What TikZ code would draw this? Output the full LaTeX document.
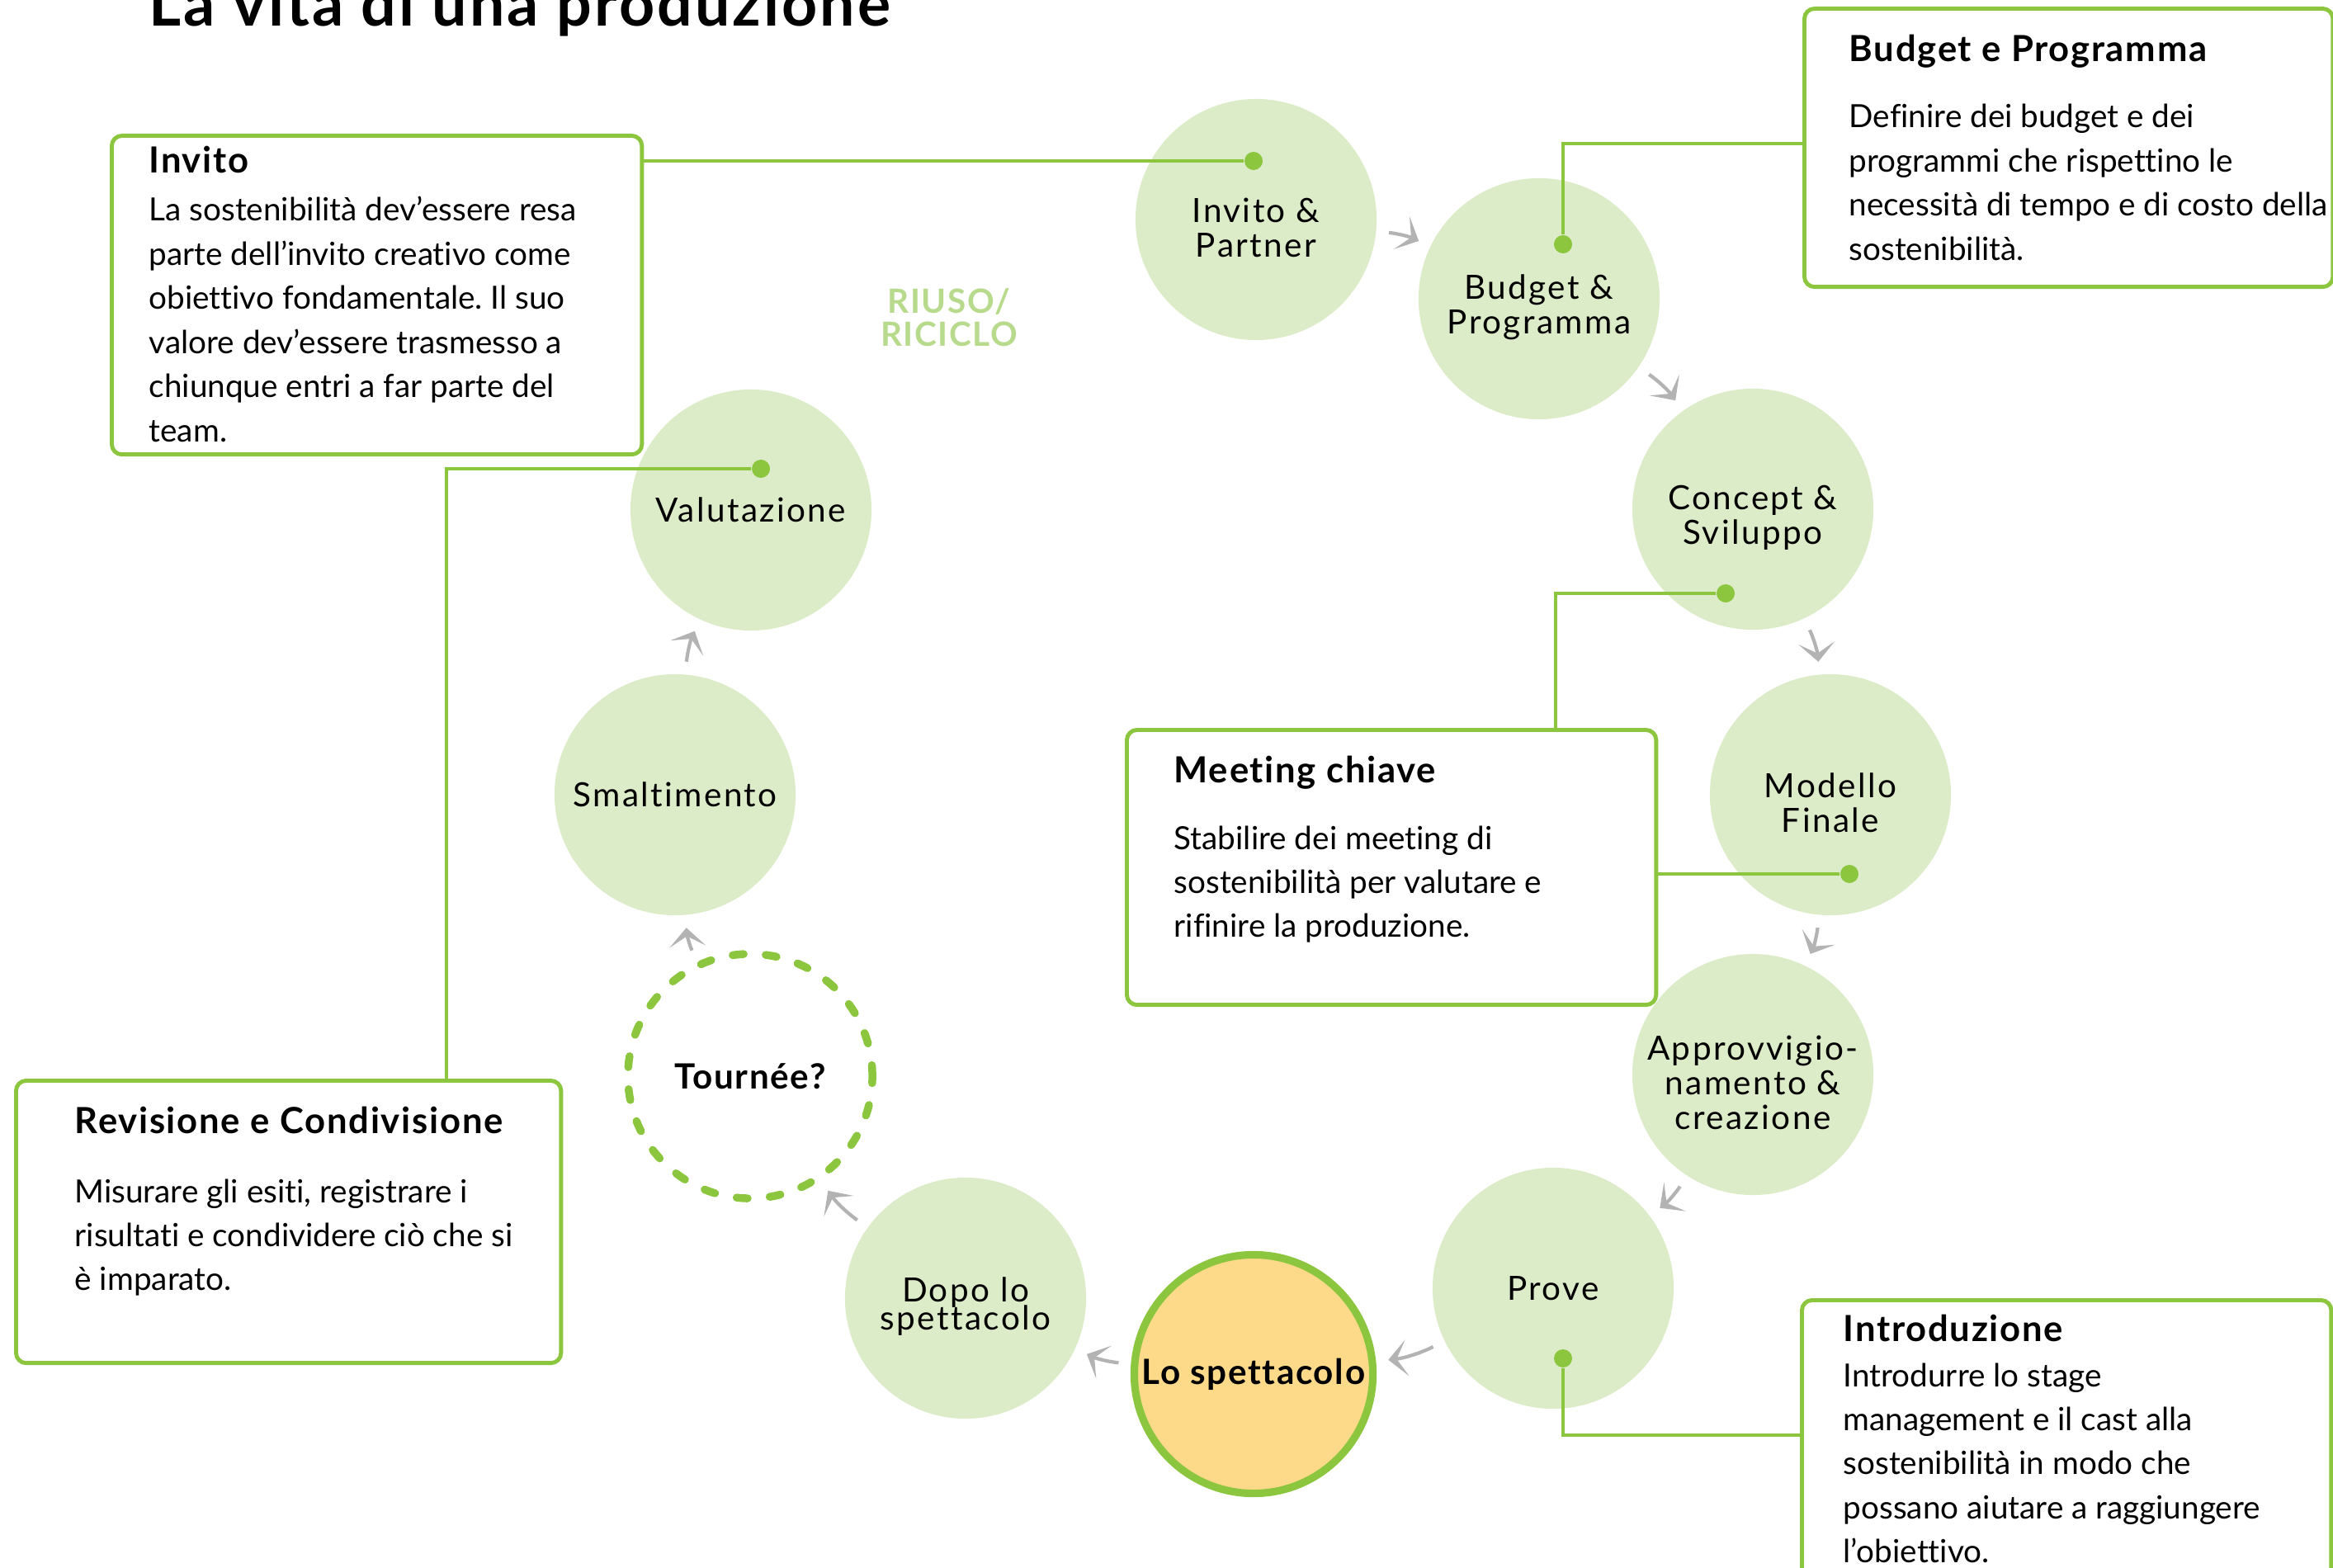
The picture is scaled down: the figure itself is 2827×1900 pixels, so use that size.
\documentclass[tikz,border=0pt]{standalone}
\usepackage{fontspec}
\setmainfont{Lato}[Ligatures=NoCommon]
\newfontfamily\circfont[LetterSpace=6, Ligatures=NoCommon]{Lato}
\newfontfamily\headfont[LetterSpace=4, Ligatures=NoCommon]{Lato}
\usetikzlibrary{arrows.meta}
\frenchspacing

\definecolor{leafgreen}{HTML}{8CC63F}
\definecolor{stagefill}{HTML}{DDECC8}
\definecolor{showfill}{HTML}{FCDA8A}
\definecolor{arrowgray}{HTML}{B3B3B3}
\definecolor{reusegreen}{HTML}{B7DA8C}

\newcommand{\infolines}[1]{\parbox[t]{6.3cm}{\raggedright #1}}
\newcommand{\tightlines}{\circfont\fontsize{11.5pt}{9.7pt}\selectfont\lineskiplimit=-20pt\relax}

\tikzset{
  stage/.style={circle, fill=stagefill, minimum size=2.92cm, inner sep=0pt, align=center, font=\circfont\fontsize{11.5pt}{12pt}\selectfont},
  stagelabel/.style={align=center, inner sep=0pt, yshift=-0.1cm, font=\circfont\fontsize{11.5pt}{12pt}\selectfont},
  showstage/.style={circle, fill=showfill, draw=leafgreen, line width=2.6pt, minimum size=2.89cm, inner sep=0pt, font=\headfont\bfseries\fontsize{12pt}{12pt}\selectfont},
  tourstage/.style={circle, draw=leafgreen, line width=2.7pt, dash pattern=on 3.8pt off 7.6pt, line cap=round, minimum size=2.96cm, inner sep=0pt, font=\headfont\bfseries\fontsize{12pt}{12pt}\selectfont},
  infobox/.style={draw=leafgreen, fill=white, line width=1.4pt, rounded corners=3.5pt, anchor=north west, inner sep=0pt},
  boxhead/.style={anchor=base west, inner sep=0pt, font=\headfont\bfseries\fontsize{12.4pt}{14pt}\selectfont},
  boxtext/.style={anchor=base west, inner sep=0pt, font=\fontsize{11pt}{15.2pt}\selectfont},
  link/.style={draw=leafgreen, line width=1.3pt},
  linkdot/.style={circle, fill=leafgreen, inner sep=0pt, minimum size=0.22cm},
  flow/.style={draw=arrowgray, line width=1.2pt, -{Stealth[length=6.5pt, width=12.5pt, inset=3.6pt]}, shorten <=0.15cm, shorten >=0.15cm}
}

\begin{document}
\begin{tikzpicture}[x=0.01cm, y=-0.01cm]
\useasboundingbox (0,0) rectangle (2827,1900);

\node [anchor=base west, inner sep=0pt, font=\headfont\bfseries\fontsize{21.4pt}{24pt}\selectfont] (title) at (180,32) {La vita di una produzione};

\node [stage, label={[stagelabel]center:Invito \&\\Partner}] (inv) at (1522,266) {};
\node [stage, label={[stagelabel]center:Budget \&\\Programma}] (bud) at (1865,362) {};
\node [stage, label={[stagelabel]center:Concept \&\\Sviluppo}] (con) at (2124,617) {};
\node [stage, label={[stagelabel]center:Modello\\Finale}] (mod) at (2218,963) {};
\node [stage, label={[stagelabel]center:Approvvigio-\\namento \&\\creazione}] (app) at (2124,1302) {};
\node [stage] (pro) at (1882,1561) {Prove};
\node [showstage] (show) at (1519,1665) {Lo spettacolo};
\node [stage, label={[stagelabel, font=\tightlines]center:Dopo lo\\spettacolo}] (dopo) at (1170,1573) {};
\node [tourstage] (tour) at (909,1304) {Tournée?};
\node [stage] (smal) at (818,963) {Smaltimento};
\node [stage] (val) at (910,618) {Valutazione};

\node [align=center, inner sep=0pt, text=reusegreen, font=\headfont\bfseries\fontsize{11.5pt}{11.4pt}\selectfont] (reuse) at (1150,385) {RIUSO/\\RICICLO};

\draw [flow] (inv) to [bend left=10] (bud);
\draw [flow] (bud) to [bend left=10] (con);
\draw [flow] (con) to [bend left=10] (mod);
\draw [flow] (mod) to [bend left=10] (app);
\draw [flow] (app) to [bend left=10] (pro);
\draw [flow] (pro) to [bend left=10] (show);
\draw [flow] (show) to [bend left=10] (dopo);
\draw [flow] (dopo) to [bend left=10] (tour);
\draw [flow] (tour) to [bend left=10] (smal);
\draw [flow] (smal) to [bend left=10] (val);

\node [infobox, minimum width=6.42cm, minimum height=3.86cm] (invbox) at (133,162) {};
\node [infobox, minimum width=6.40cm, minimum height=3.37cm] (budbox) at (2184,8) {};
\node [infobox, minimum width=6.41cm, minimum height=3.33cm] (meetbox) at (1363,882) {};
\node [infobox, minimum width=6.60cm, minimum height=3.42cm] (revbox) at (17,1307) {};
\node [infobox, minimum width=6.41cm, minimum height=4.20cm] (intbox) at (2181,1573) {};

\node [linkdot] (invdot) at (1519,195) {};
\draw [link] (invbox.east |- invdot) -- (invdot);

\node [linkdot] (buddot) at (1894,296) {};
\coordinate (budknee) at (1894,174);
\draw [link] (buddot) -- (budknee) -- (budknee -| budbox.west);

\node [linkdot] (condot) at (2091,719) {};
\coordinate (conknee) at (1885,719);
\draw [link] (condot) -- (conknee) -- (conknee |- meetbox.north);

\node [linkdot] (moddot) at (2241,1059) {};
\draw [link] (moddot) -- (moddot -| meetbox.east);

\node [linkdot] (prodot) at (1894,1646) {};
\coordinate (proknee) at (1894,1739);
\draw [link] (prodot) -- (proknee) -- (proknee -| intbox.west);

\node [linkdot] (valdot) at (922,568) {};
\coordinate (valknee) at (541,568);
\draw [link] (valdot) -- (valknee) -- (valknee |- revbox.north);

\node [boxhead] (invhead) at (180,209) {Invito};
\node [boxtext] (invtext) at (180,268) {\infolines{La sostenibilità dev’essere resa\\parte dell’invito creativo come\\obiettivo fondamentale. Il suo\\valore dev’essere trasmesso a\\chiunque entri a far parte del\\team.}};

\node [boxhead] (budhead) at (2240,75) {Budget e Programma};
\node [boxtext] (budtext) at (2240,155) {\infolines{Definire dei budget e dei\\programmi che rispettino le\\necessità di tempo e di costo della\\sostenibilità.}};

\node [boxhead] (meethead) at (1422,948) {Meeting chiave};
\node [boxtext] (meettext) at (1422,1029) {\infolines{Stabilire dei meeting di\\sostenibilità per valutare e\\rifinire la produzione.}};

\node [boxhead] (revhead) at (90,1373) {Revisione e Condivisione};
\node [boxtext] (revtext) at (90,1457) {\infolines{Misurare gli esiti, registrare i\\risultati e condividere ciò che si\\è imparato.}};

\node [boxhead] (inthead) at (2233,1625) {Introduzione};
\node [boxtext] (inttext) at (2233,1680) {\infolines{Introdurre lo stage\\management e il cast alla\\sostenibilità in modo che\\possano aiutare a raggiungere\\l’obiettivo.}};
\end{tikzpicture}
\end{document}
